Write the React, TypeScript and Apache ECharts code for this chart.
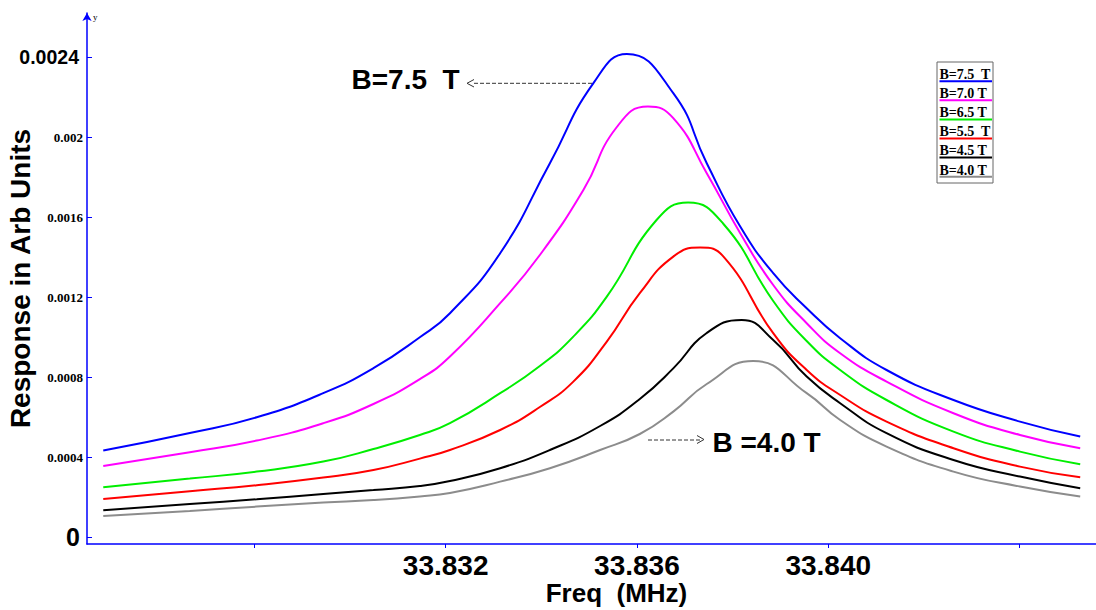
import React, { useEffect, useRef } from "react";
import * as echarts from "echarts";

const seriesNames = ["B=7.5  T", "B=7.0 T", "B=6.5 T", "B=5.5  T", "B=4.5 T", "B=4.0 T"];
const seriesColors = ["#0000ff", "#ff00ff", "#00ee00", "#ff0000", "#000000", "#8c8c8c"];

const freq75 = [33.82484, 33.82665, 33.82805, 33.82944, 33.83049, 33.83146, 33.83209, 33.83314, 33.83418, 33.83509, 33.83579, 33.83676, 33.83746, 33.83816, 33.83885, 33.83955, 33.84025, 33.84122, 33.84262, 33.84401, 33.84527];
const resp75 = [0.000432, 0.00052, 0.000599, 0.000719, 0.000844, 0.000999, 0.001119, 0.001419, 0.001869, 0.002269, 0.002415, 0.002219, 0.001869, 0.001552, 0.001319, 0.001144, 0.000994, 0.000835, 0.000685, 0.000577, 0.000502];

const freq70 = [33.82484, 33.82665, 33.82805, 33.82944, 33.83049, 33.83146, 33.83209, 33.83314, 33.83397, 33.83488, 33.83558, 33.83623, 33.83676, 33.83746, 33.83816, 33.83885, 33.83955, 33.84025, 33.84122, 33.84262, 33.84401, 33.84527];
const resp70 = [0.000355, 0.000424, 0.000482, 0.000569, 0.000665, 0.000789, 0.000902, 0.001169, 0.00141, 0.001735, 0.00205, 0.002152, 0.002094, 0.001819, 0.001519, 0.00126, 0.001069, 0.000919, 0.000777, 0.000619, 0.00051, 0.000444];

const freq65 = [33.82484, 33.82665, 33.82805, 33.82944, 33.83049, 33.83146, 33.83209, 33.83314, 33.83397, 33.83467, 33.83537, 33.83641, 33.83707, 33.83781, 33.83885, 33.83955, 33.84025, 33.84122, 33.84262, 33.84401, 33.84527];
const resp65 = [0.000249, 0.000292, 0.000327, 0.000377, 0.00044, 0.00051, 0.000569, 0.000719, 0.000855, 0.001002, 0.001202, 0.001585, 0.001672, 0.001565, 0.00118, 0.00098, 0.000835, 0.000685, 0.000527, 0.000427, 0.000364];

const freq55 = [33.82484, 33.82665, 33.82805, 33.82944, 33.83049, 33.83146, 33.83209, 33.83314, 33.83397, 33.83467, 33.83537, 33.83606, 33.83676, 33.83732, 33.83781, 33.83885, 33.83955, 33.84025, 33.84122, 33.84262, 33.84401, 33.84527];
const resp55 = [0.00019, 0.000229, 0.000259, 0.000297, 0.000335, 0.000392, 0.000435, 0.000535, 0.00065, 0.000777, 0.000977, 0.001219, 0.001402, 0.001447, 0.001402, 0.001019, 0.000835, 0.00071, 0.000577, 0.000444, 0.000352, 0.000299];

const freq45 = [33.82484, 33.82665, 33.82805, 33.82944, 33.83049, 33.83146, 33.83209, 33.83314, 33.83418, 33.83523, 33.83606, 33.83676, 33.83746, 33.83819, 33.83885, 33.83955, 33.84025, 33.84122, 33.84262, 33.84401, 33.84527];
const resp45 = [0.000134, 0.000165, 0.000189, 0.000215, 0.000235, 0.000255, 0.00028, 0.000344, 0.000435, 0.000555, 0.00069, 0.000843, 0.00102, 0.001085, 0.000985, 0.000802, 0.000669, 0.000519, 0.000385, 0.000302, 0.000244];

const freq40 = [33.82484, 33.82665, 33.82805, 33.82944, 33.83049, 33.83146, 33.83209, 33.83314, 33.83418, 33.83523, 33.83606, 33.83676, 33.83746, 33.83843, 33.83955, 33.84025, 33.84122, 33.84262, 33.84401, 33.84527];
const resp40 = [0.000105, 0.00013, 0.000152, 0.000172, 0.000185, 0.000203, 0.00022, 0.000277, 0.000344, 0.000435, 0.000515, 0.000627, 0.000765, 0.00088, 0.000719, 0.000585, 0.000452, 0.000327, 0.000252, 0.000202];

const freqs = [freq75, freq70, freq65, freq55, freq45, freq40];
const resps = [resp75, resp70, resp65, resp55, resp45, resp40];

const xTicks = [33.828, 33.832, 33.836, 33.84, 33.844];
const xLabels = [33.832, 33.836, 33.84];
const yTicks = [0, 0.0004, 0.0008, 0.0012, 0.0016, 0.002, 0.0024];

const SANS = "'Liberation Sans', Arial, sans-serif";
const SERIF = "'Liberation Serif', 'Times New Roman', serif";

export default function App() {
  const ref = useRef<HTMLDivElement>(null);
  useEffect(() => {
    if (!ref.current) return;
    const chart = echarts.init(ref.current, null, { renderer: "svg" });

    const legendX = 937;
    const legendY = 62;
    const rowH = 19.1;
    const legendEls: any[] = [
      {
        type: "rect",
        shape: { x: legendX, y: legendY, width: 56, height: 121 },
        style: { fill: "#fff", stroke: "#666", lineWidth: 1 },
        z: 10,
      },
    ];
    seriesNames.forEach((n, i) => {
      legendEls.push({
        type: "text",
        x: legendX + 2.5,
        y: legendY + 12.5 + i * rowH,
        style: { text: n, font: `bold 14px ${SERIF}`, fill: "#000", verticalAlign: "middle", align: "left" },
        z: 11,
      });
      legendEls.push({
        type: "line",
        shape: { x1: legendX + 2.5, y1: legendY + 19.2 + i * rowH, x2: legendX + 55, y2: legendY + 19.2 + i * rowH },
        style: { stroke: seriesColors[i], lineWidth: 2 },
        z: 11,
      });
    });

    const option: any = {
      animation: false,
      backgroundColor: "#fff",
      grid: { left: 87, right: 0, top: 13, bottom: 66, containLabel: false, outerBoundsMode: "none" },
      xAxis: {
        type: "value",
        min: 33.8245,
        max: 33.8456,
        name: "Freq  (MHz)",
        nameLocation: "middle",
        nameGap: 39,
        nameMoveOverlap: false,
        nameTextStyle: {
          fontFamily: SANS,
          fontWeight: "bold",
          fontSize: 26,
          lineHeight: 20,
          color: "#000",
          padding: [0, 0, 0, 50],
        },
        axisLine: { show: true, onZero: false, lineStyle: { color: "#0000ff", width: 1.5 } },
        axisTick: { show: true, length: 4, lineStyle: { color: "#0000ff" }, customValues: xTicks },
        axisLabel: {
          customValues: xLabels,
          margin: 10,
          fontFamily: SANS,
          fontWeight: "bold",
          fontSize: 28,
          lineHeight: 22,
          color: "#000",
          formatter: (v: number) => v.toFixed(3),
        },
        splitLine: { show: false },
      },
      yAxis: {
        type: "value",
        min: -0.000035,
        max: 0.00262,
        name: "Response in Arb Units",
        nameLocation: "middle",
        nameGap: 53,
        nameMoveOverlap: false,
        nameTextStyle: { fontFamily: SANS, fontWeight: "bold", fontSize: 28, color: "#000" },
        axisLine: {
          show: true,
          onZero: false,
          symbol: ["none", "arrow"],
          symbolSize: [7, 8],
          lineStyle: { color: "#0000ff", width: 1.5 },
        },
        axisTick: { show: true, inside: true, length: 5, lineStyle: { color: "#0000ff" }, customValues: yTicks },
        axisLabel: {
          customValues: yTicks,
          margin: 4,
          formatter: (v: number) => {
            const s = parseFloat(v.toFixed(4)).toString();
            if (Math.abs(v) < 1e-9) return `{z|${s}}`;
            if (Math.abs(v - 0.0024) < 1e-9) return `{b|${s}}`;
            return `{s|${s}}`;
          },
          rich: {
            z: { fontFamily: SANS, fontWeight: "bold", fontSize: 25, color: "#000", padding: [0, 3, 0, 0] },
            b: { fontFamily: SANS, fontWeight: "bold", fontSize: 19.5, color: "#000", padding: [0, 4, 0, 0] },
            s: { fontFamily: SERIF, fontWeight: "bold", fontSize: 13, color: "#000" },
          },
        },
        splitLine: { show: false },
      },
      series: seriesNames.map((n, i) => ({
        name: n,
        type: "line",
        showSymbol: false,
        symbol: "none",
        smooth: 0.5,
        lineStyle: { color: seriesColors[i], width: 2 },
        itemStyle: { color: seriesColors[i] },
        data: freqs[i].map((f, j) => [f, resps[i][j]]),
      })),
      graphic: [
        {
          type: "text",
          x: 93,
          y: 17,
          style: { text: "y", font: `9px ${SERIF}`, fill: "#000", verticalAlign: "middle" },
        },
        {
          type: "text",
          x: 351.5,
          y: 79.5,
          style: { text: "B=7.5  T", font: `bold 28px ${SANS}`, fill: "#000", verticalAlign: "middle", align: "left" },
        },
        {
          type: "polyline",
          shape: { points: [[474, 79.5], [467, 83.3], [474, 87]] },
          style: { stroke: "#333", lineWidth: 1, fill: "none" },
        },
        {
          type: "line",
          shape: { x1: 474, y1: 83.3, x2: 592, y2: 83.3 },
          style: { stroke: "#333", lineWidth: 1, lineDash: [4, 2] },
        },
        {
          type: "line",
          shape: { x1: 648, y1: 440, x2: 702, y2: 440 },
          style: { stroke: "#333", lineWidth: 1, lineDash: [4, 2] },
        },
        {
          type: "polyline",
          shape: { points: [[697, 435.5], [704, 439.5], [697, 443.5]] },
          style: { stroke: "#333", lineWidth: 1, fill: "none" },
        },
        {
          type: "text",
          x: 712.5,
          y: 442,
          style: { text: "B =4.0 T", font: `bold 28px ${SANS}`, fill: "#000", verticalAlign: "middle", align: "left" },
        },
        ...legendEls,
      ],
    };
    chart.setOption(option);
    return () => chart.dispose();
  }, []);

  return (
    <div
      ref={ref}
      style={{ position: "fixed", left: 0, top: 0, width: 1096, height: 610, background: "#fff" }}
    />
  );
}
